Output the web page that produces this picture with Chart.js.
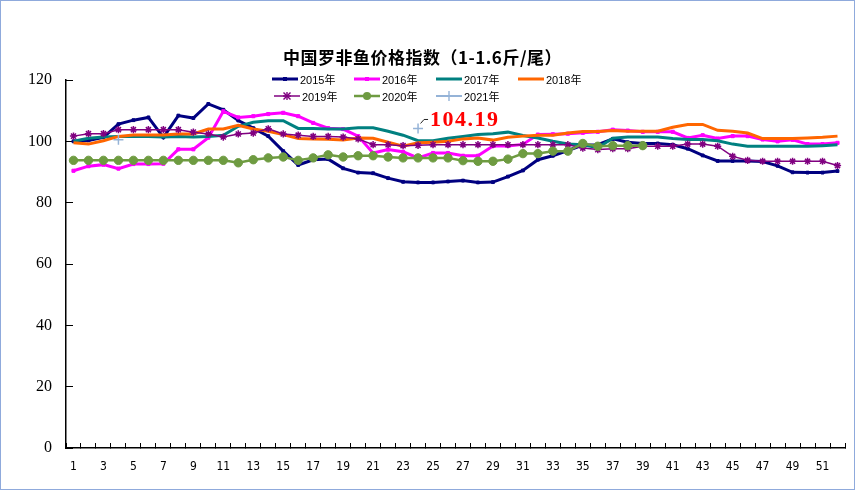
<!DOCTYPE html>
<html><head><meta charset="utf-8">
<script src="https://cdn.jsdelivr.net/npm/chart.js@4.4.1/dist/chart.umd.min.js"></script>
<style>
html,body{margin:0;padding:0;background:#fff;}
#wrap{position:relative;width:855px;height:490px;overflow:hidden;background:#fff;}
#frame{position:absolute;left:0;top:0;width:853px;height:488px;border:1px solid #8FAADC;pointer-events:none;}
#c{position:absolute;left:0;top:0;}
#title{position:absolute;top:45px;left:0;width:845px;text-align:center;font-weight:bold;font-size:17px;line-height:24px;letter-spacing:0.5px;font-family:"Noto Sans CJK SC",sans-serif;color:#000;}
.lg{position:absolute;height:14px;display:flex;align-items:center;font-size:11px;font-family:"Liberation Sans","Noto Sans CJK SC",sans-serif;color:#000;white-space:nowrap;}
.lg svg{margin-right:2px;}
</style></head>
<body><div id="wrap"><canvas id="c" width="855" height="490"></canvas><div id="title">中国罗非鱼价格指数（1-1.6斤/尾）</div><div id="frame"></div></div>
<script>
// ---- data ----
const weeks = ['1','2','3','4','5','6','7','8','9','10','11','12','13','14','15','16','17','18','19','20','21','22','23','24','25','26','27','28','29','30','31','32','33','34','35','36','37','38','39','40','41','42','43','44','45','46','47','48','49','50','51','52'];
const seriesNames = ['2015年','2016年','2017年','2018年','2019年','2020年','2021年'];
const y2015 = [100.0,100.3,101.3,105.6,106.9,107.8,101.3,108.4,107.6,112.2,110.3,106.8,104.3,101.7,96.8,92.3,94.0,94.2,91.2,89.8,89.6,88.0,86.8,86.6,86.6,86.9,87.2,86.6,86.7,88.5,90.5,94.0,95.3,97.0,98.8,98.9,100.8,99.7,99.3,99.3,98.9,97.6,95.4,93.6,93.6,93.6,93.4,92.0,89.9,89.8,89.8,90.3];
const y2016 = [90.4,91.9,92.4,91.1,92.6,92.6,92.7,97.4,97.4,101.2,109.8,107.8,108.2,108.9,109.3,108.2,106.0,104.3,104.0,101.7,96.2,97.3,96.6,94.6,96.2,96.2,95.3,95.3,98.5,98.5,99.0,102.2,102.3,102.5,102.8,103.1,103.8,103.5,103.1,103.1,103.1,101.1,102.0,100.9,101.7,101.7,100.6,100.0,100.5,99.1,99.1,99.5];
const y2017 = [100.0,101.0,101.4,101.6,101.6,101.6,101.4,101.6,101.4,101.6,102.0,104.9,106.2,106.7,106.7,104.2,104.2,104.0,104.0,104.4,104.4,103.3,102.0,100.2,100.2,101.0,101.6,102.2,102.5,103.0,101.9,101.1,100.0,99.1,98.9,97.9,101.0,101.4,101.4,101.4,100.9,100.6,100.6,100.2,99.1,98.4,98.4,98.4,98.4,98.4,98.6,98.9];
const y2018 = [99.5,99.1,100.2,101.6,102.1,102.1,102.1,102.4,102.4,104.0,104.0,105.2,104.0,103.3,102.2,100.9,100.8,100.7,100.4,101.1,101.0,99.7,98.4,99.5,99.7,100.0,100.8,101.1,100.4,101.3,101.7,102.0,102.0,102.7,103.2,103.2,103.5,103.3,103.3,103.3,104.6,105.5,105.5,103.6,103.3,102.7,100.9,100.9,100.9,101.1,101.3,101.7];
const y2019 = [101.7,102.5,102.5,103.8,103.8,103.8,103.8,103.8,103.0,102.4,101.4,102.4,102.7,104.1,102.4,102.0,101.6,101.6,101.4,100.8,98.9,98.9,98.6,98.7,98.9,98.9,98.9,98.9,98.9,98.9,98.9,98.9,98.9,98.9,97.8,97.3,97.6,97.6,98.4,98.4,98.4,99.1,99.1,98.4,95.1,93.8,93.5,93.5,93.5,93.5,93.5,92.1];
const y2020 = [93.8,93.8,93.8,93.8,93.8,93.8,93.8,93.8,93.8,93.8,93.8,93.0,94.0,94.6,94.9,93.8,94.6,95.6,94.9,95.3,95.3,94.9,94.6,94.6,94.6,94.6,93.7,93.5,93.5,94.2,96.0,96.0,96.8,96.8,99.3,98.4,98.6,98.6,98.6,null,null,null,null,null,null,null,null,null,null,null,null,null];
const y2021 = [null,null,null,100.5,null,null,null,null,null,null,null,null,null,null,null,null,null,null,null,null,null,null,null,104.19,null,null,null,null,null,null,null,null,null,null,null,null,null,null,null,null,null,null,null,null,null,null,null,null,null,null,null,null];
const yTicks = [0,20,40,60,80,100,120];

// ---- styles ----
const styles = [
  {color:'#000080', width:3,   point:'rect',   r:2,   fill:'#000080'},
  {color:'#FF00FF', width:3,   point:'rect',   r:2.2, fill:'#FF00FF'},
  {color:'#008080', width:3,   point:false,    r:0,   fill:'#008080'},
  {color:'#FF6600', width:3,   point:false,    r:0,   fill:'#FF6600'},
  {color:'#800080', width:1.5, point:'star',   r:3.6, fill:'#C080C0'},
  {color:'#6E9B41', width:2.5, point:'circle', r:4.2, fill:'#6E9B41'},
  {color:'#95B3D7', width:2,   point:'cross',  r:5,   fill:'#95B3D7'}
];
const allData = [y2015,y2016,y2017,y2018,y2019,y2020,y2021];

const datasets = allData.map((d,i)=>({
  label: seriesNames[i],
  data: d,
  borderColor: styles[i].color,
  backgroundColor: styles[i].fill,
  borderWidth: styles[i].width,
  pointStyle: styles[i].point || 'circle',
  pointRadius: styles[i].r,
  pointBorderColor: styles[i].color,
  pointBackgroundColor: styles[i].fill,
  pointBorderWidth: styles[i].point==='star'||styles[i].point==='cross' ? 1.5 : 1,
  tension: 0,
  spanGaps: false,
  order: allData.length - i
}));

const labelPlugin = {
  id: 'lastLabel',
  afterDatasetsDraw(chart){
    const di = 6;
    const d = allData[di];
    let idx = -1;
    for (let i=0;i<d.length;i++) if (d[i]!==null) idx = i;
    if (idx<0) return;
    const el = chart.getDatasetMeta(di).data[idx];
    const ctx = chart.ctx;
    ctx.save();
    ctx.strokeStyle = '#222';
    ctx.lineWidth = 1;
    ctx.beginPath();
    ctx.moveTo(el.x+2.5, el.y-5);
    ctx.lineTo(el.x+6, el.y-9);
    ctx.lineTo(el.x+10, el.y-9);
    ctx.stroke();
    ctx.font = 'bold 22px "Liberation Serif", serif';
    ctx.fillStyle = '#FF0000';
    ctx.textBaseline = 'middle';
    ctx.textAlign = 'left';
    try { ctx.letterSpacing = '1.5px'; } catch(e){}
    ctx.fillText(d[idx].toFixed(2), el.x+12, el.y-8);
    ctx.restore();
  }
};

new Chart(document.getElementById('c'), {
  type: 'line',
  data: {labels: weeks, datasets: datasets},
  options: {
    responsive: false,
    animation: false,
    events: [],
    layout: {padding: {top: 80, left: 0, right: 10, bottom: 0}},
    plugins: {legend: {display: false}, title: {display: false}, tooltip: {enabled: false}},
    scales: {
      x: {
        type: 'category',
        offset: true,
        grid: {offset: true, drawOnChartArea: false, drawTicks: true, tickLength: -5, color: '#000', lineWidth: 1},
        border: {color: '#000', width: 1.5},
        ticks: {autoSkip: false, maxRotation: 0, minRotation: 0, padding: 17, color: '#000',
          font: {family: '"Liberation Sans Narrow","DejaVu Sans Condensed",sans-serif', size: 12},
          callback: (v, i) => (i % 2 === 0 ? weeks[i] : '')},
        afterFit: s => { s.height = 42; }
      },
      y: {
        min: 0, max: 120,
        afterBuildTicks: s => { s.ticks = yTicks.map(v => ({value: v})); },
        grid: {drawOnChartArea: false, drawTicks: true, tickLength: -7, color: '#000', lineWidth: 1},
        border: {color: '#000', width: 1.5},
        ticks: {padding: 21, color: '#000', font: {family: '"Liberation Serif",serif', size: 16}},
        afterFit: s => { s.width = 66; }
      }
    }
  },
  plugins: [labelPlugin]
});

// ---- legend (HTML) ----
const wrap = document.getElementById('wrap');
const legendPos = [[272,72],[354,72],[436,72],[518,72],[274,89],[354,89],[436,89]];
function markerSvg(st){
  let m = '';
  const cx = 13, cy = 7;
  if (st.point === 'rect') m = `<rect x="${cx-2}" y="${cy-2}" width="4" height="4" fill="${st.fill}"/>`;
  else if (st.point === 'circle') m = `<circle cx="${cx}" cy="${cy}" r="4" fill="${st.fill}"/>`;
  else if (st.point === 'star') m = `<g stroke="${st.color}" stroke-width="1.4"><line x1="${cx-3.5}" y1="${cy-3.5}" x2="${cx+3.5}" y2="${cy+3.5}"/><line x1="${cx-3.5}" y1="${cy+3.5}" x2="${cx+3.5}" y2="${cy-3.5}"/><line x1="${cx}" y1="${cy-4}" x2="${cx}" y2="${cy+4}"/><line x1="${cx-4}" y1="${cy}" x2="${cx+4}" y2="${cy}"/></g>`;
  else if (st.point === 'cross') m = `<g stroke="${st.color}" stroke-width="1.4"><line x1="${cx}" y1="${cy-5}" x2="${cx}" y2="${cy+5}"/><line x1="${cx-5}" y1="${cy}" x2="${cx+5}" y2="${cy}"/></g>`;
  return `<svg width="26" height="14" viewBox="0 0 26 14"><line x1="0" y1="7" x2="26" y2="7" stroke="${st.color}" stroke-width="${st.width}"/>${m}</svg>`;
}
seriesNames.forEach((n, i) => {
  const div = document.createElement('div');
  div.className = 'lg';
  div.style.left = legendPos[i][0] + 'px';
  div.style.top = legendPos[i][1] + 'px';
  div.innerHTML = markerSvg(styles[i]) + '<span>' + n + '</span>';
  wrap.appendChild(div);
});
</script>
</body></html>
